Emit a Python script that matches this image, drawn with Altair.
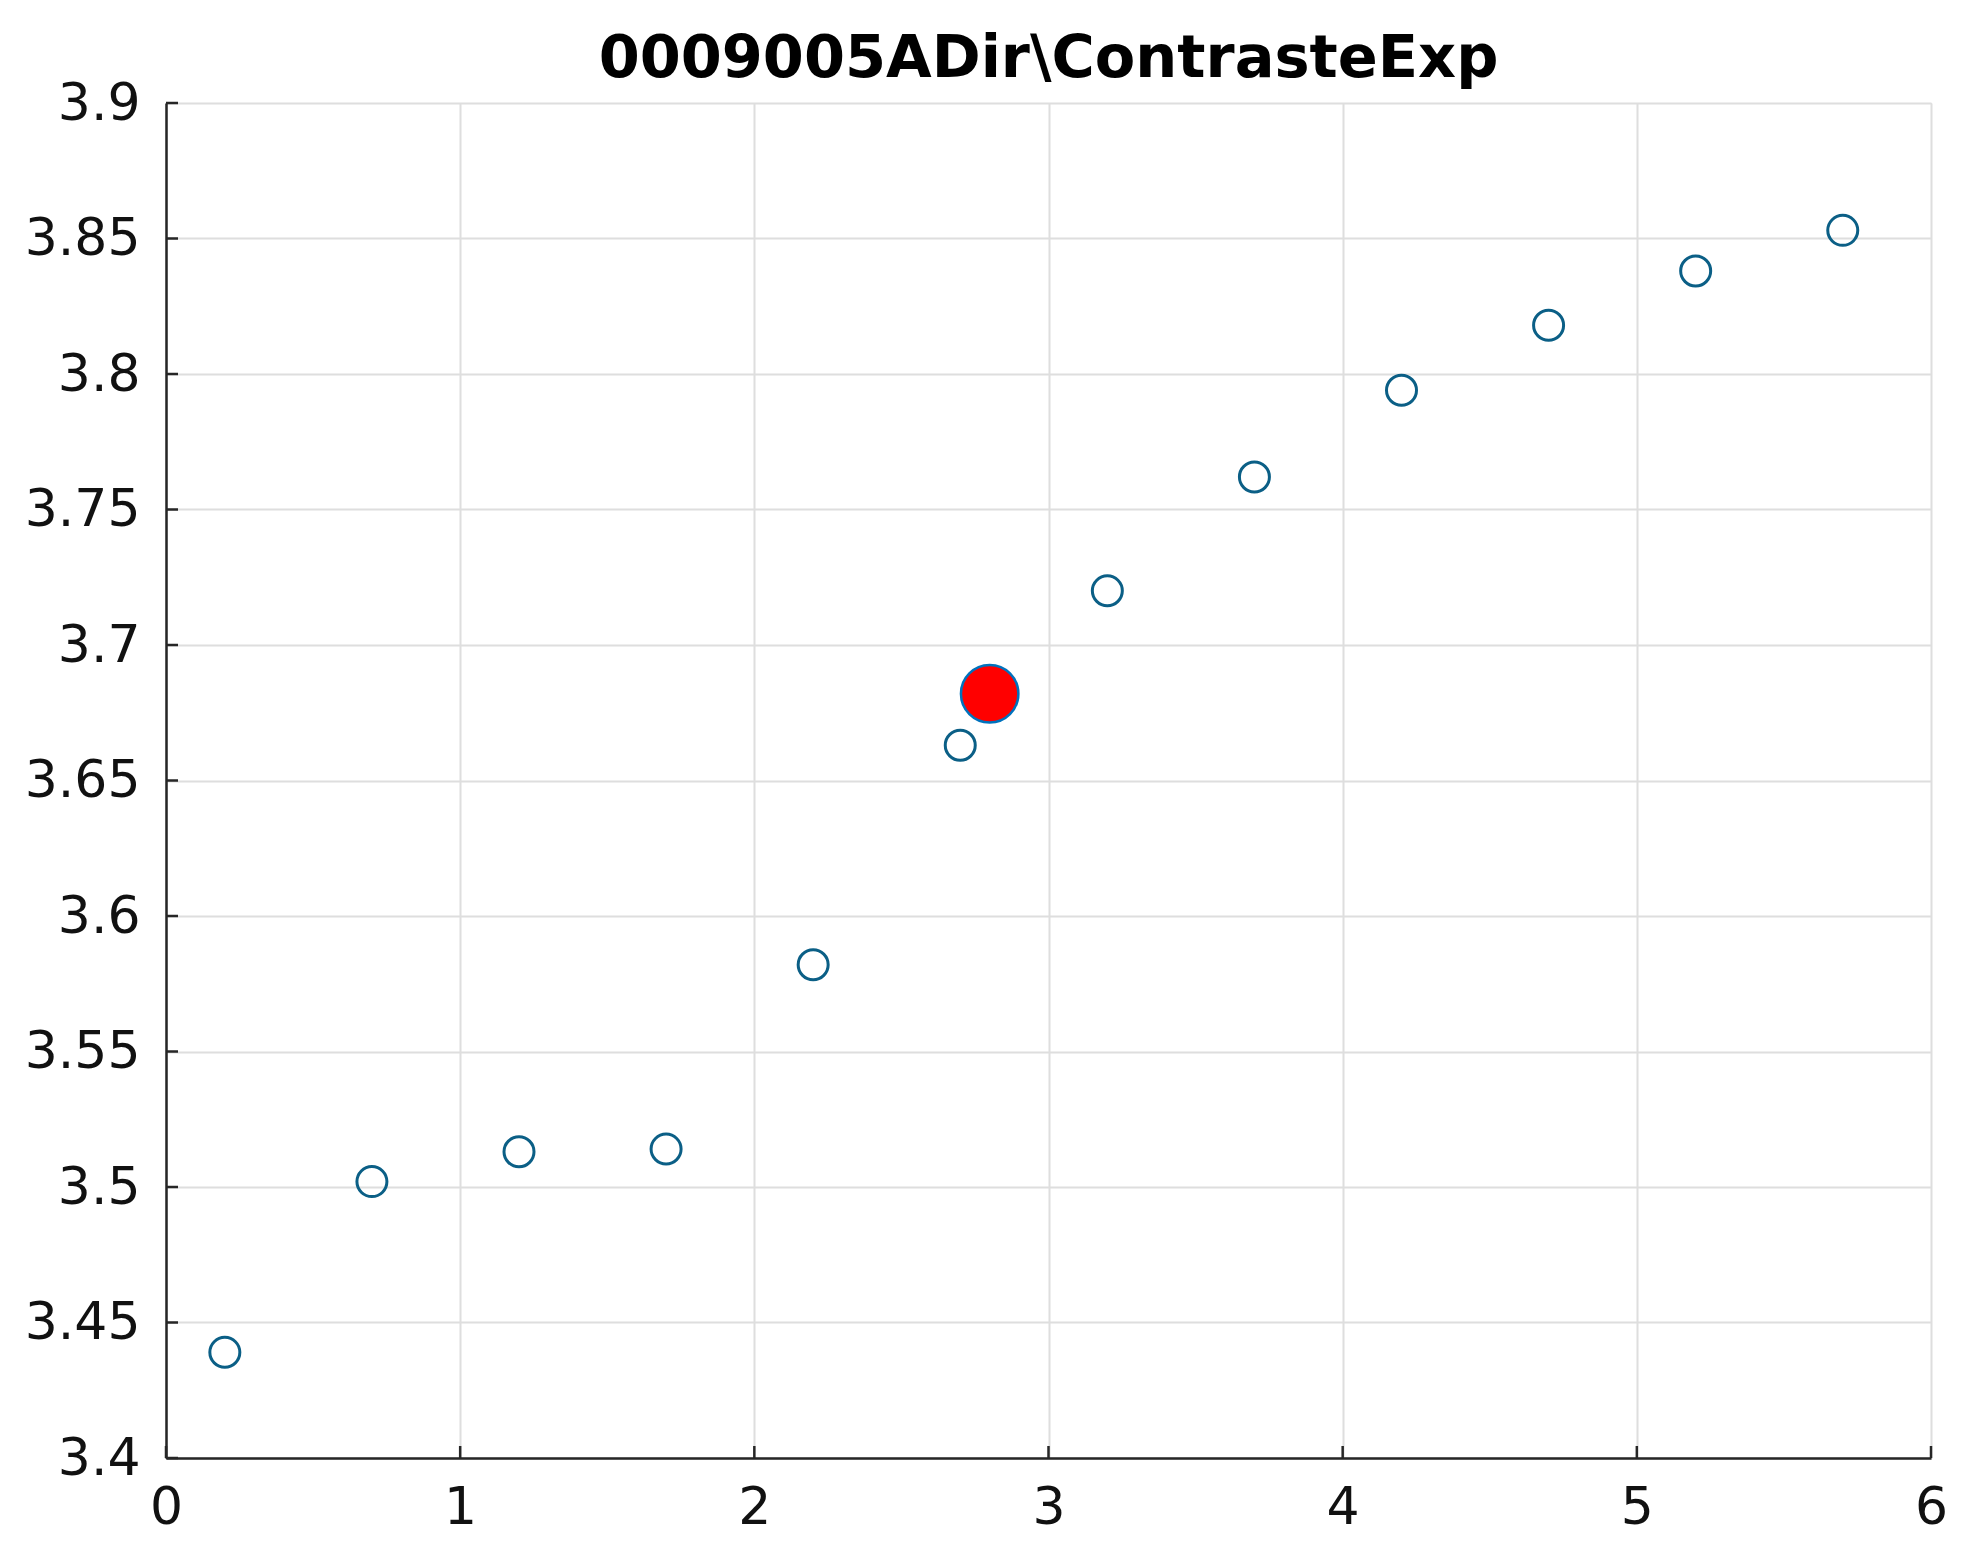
import altair as alt
import pandas as pd

x_vals = [0.2, 0.7, 1.2, 1.7, 2.2, 2.7, 3.2, 3.7, 4.2, 4.7, 5.2, 5.7]
y_vals = [3.439, 3.502, 3.513, 3.514, 3.582, 3.663, 3.720, 3.762, 3.794, 3.818, 3.838, 3.853]
best_x = [2.8]
best_y = [3.682]
x_ticks = [0, 1, 2, 3, 4, 5, 6]
y_ticks = [3.4, 3.45, 3.5, 3.55, 3.6, 3.65, 3.7, 3.75, 3.8, 3.85, 3.9]
title_text = "0009005ADir\\ContrasteExp"

W, H = 1765, 1355
FONT = "DejaVu Sans"

df = pd.DataFrame({"x": x_vals, "y": y_vals})
dbest = pd.DataFrame({"x": best_x, "y": best_y})
dxt = pd.DataFrame({"v": x_ticks})
dyt = pd.DataFrame({"v": y_ticks})

xs = alt.Scale(domain=[0, 6], nice=False, zero=False)
ys = alt.Scale(domain=[3.4, 3.9], nice=False, zero=False)

xaxis = alt.Axis(values=x_ticks, format="d", grid=True, gridColor="#dedede", gridWidth=2,
                 domainColor="#262626", domainWidth=2.5, tickSize=0,
                 labelFont=FONT, labelFontSize=52, labelColor="#111111", labelPadding=24,
                 title=None, labelFlush=False)
yaxis = alt.Axis(values=y_ticks, format=".2~f", grid=True, gridColor="#dedede", gridWidth=2,
                 domainColor="#262626", domainWidth=2.5, tickSize=0,
                 labelFont=FONT, labelFontSize=52, labelColor="#111111", labelPadding=26,
                 title=None, labelFlush=False)

pts = alt.Chart(df).mark_point(shape="circle", filled=False, size=900,
                               stroke="#0b5f86", strokeWidth=3, opacity=1).encode(
    x=alt.X("x:Q", scale=xs, axis=xaxis),
    y=alt.Y("y:Q", scale=ys, axis=yaxis),
)

best = alt.Chart(dbest).mark_point(shape="circle", filled=True, size=3300,
                                   fill="#ff0000", stroke="#0072BD", strokeWidth=2.5,
                                   fillOpacity=1, opacity=1).encode(
    x=alt.X("x:Q", scale=xs),
    y=alt.Y("y:Q", scale=ys),
)

xtick = alt.Chart(dxt).mark_rule(color="#262626", strokeWidth=2.5).encode(
    x=alt.X("v:Q", scale=xs),
    y=alt.value(H),
    y2=alt.value(H - 12),
)
ytick = alt.Chart(dyt).mark_rule(color="#262626", strokeWidth=2.5).encode(
    y=alt.Y("v:Q", scale=ys),
    x=alt.value(0),
    x2=alt.value(12),
)

chart = alt.layer(pts, best, xtick, ytick).properties(
    width=W, height=H,
    title=alt.TitleParams(title_text, font=FONT, fontSize=59, fontWeight="bold",
                          color="#000000", anchor="middle", offset=-12),
    autosize=alt.AutoSizeParams(type="none"),
    padding={"left": 158, "top": 95, "right": 30, "bottom": 80},
).configure_view(stroke=None).configure(background="white")

chart.save("out.html", embed_options={"renderer": "svg", "actions": False})
